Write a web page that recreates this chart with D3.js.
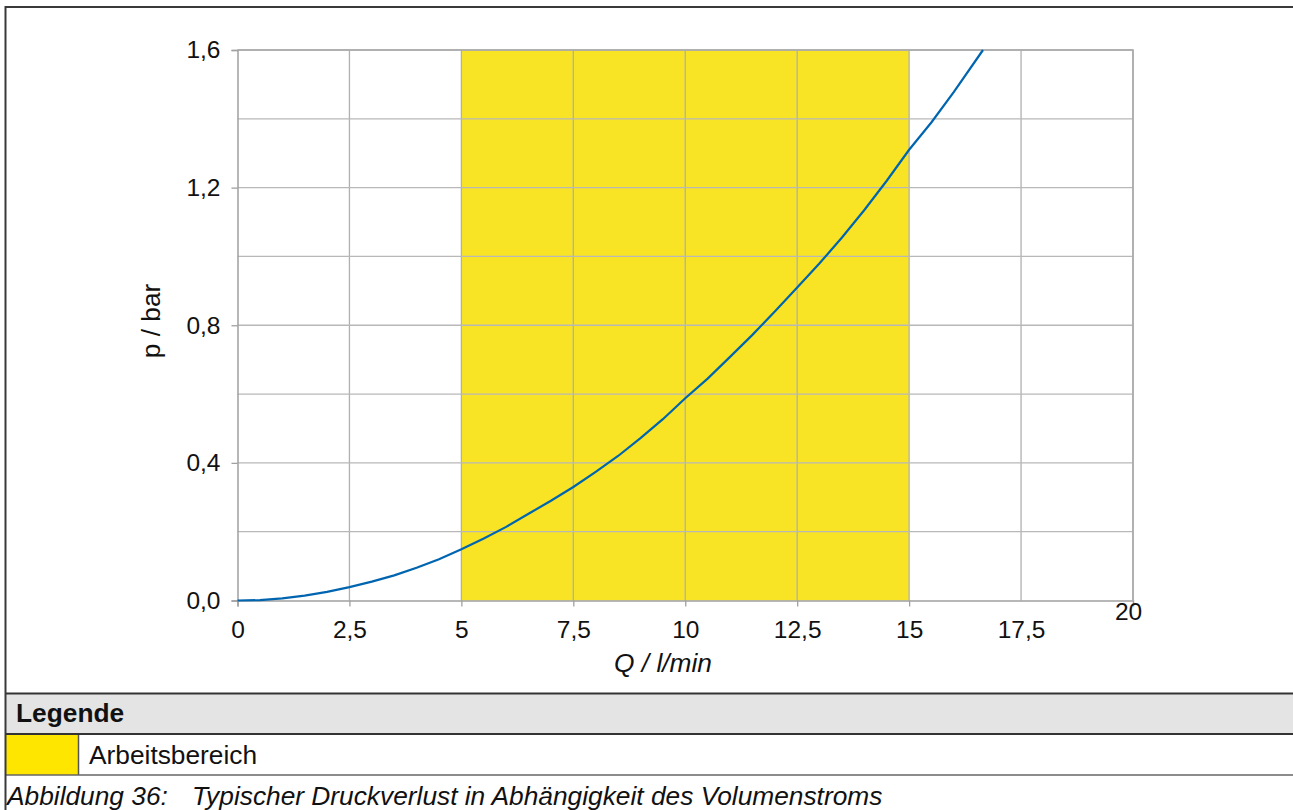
<!DOCTYPE html>
<html>
<head>
<meta charset="utf-8">
<script src="https://cdn.jsdelivr.net/npm/d3@7"></script>
<style>
  body { margin: 0; background: #fff; }
  text { font-family: "Liberation Sans", Arial, sans-serif; fill: #111; }
</style>
</head>
<body>
<svg id="chart" width="1293" height="810"></svg>
<script>
// Druckverlust-Kurve
var flow = [0, 0.5, 1, 1.5, 2, 2.5, 3, 3.5, 4, 4.5, 5, 5.5, 6, 6.5, 7, 7.5, 8, 8.5,
  9, 9.5, 10, 10.5, 11, 11.5, 12, 12.5, 13, 13.5, 14, 14.5, 15, 15.5, 16, 16.65];
var pressure = [0, 0.001, 0.006, 0.014, 0.025, 0.039, 0.055, 0.073, 0.095, 0.12, 0.149,
  0.18, 0.214, 0.252, 0.29, 0.33, 0.374, 0.42, 0.472, 0.527, 0.588, 0.645, 0.708,
  0.772, 0.84, 0.91, 0.98, 1.055, 1.135, 1.22, 1.31, 1.39, 1.478, 1.6];
var xTicks = [0, 2.5, 5, 7.5, 10, 12.5, 15, 17.5, 20];
var yTicks = [0, 0.4, 0.8, 1.2, 1.6];
var yGrid = [0.2, 0.4, 0.6, 0.8, 1.0, 1.2, 1.4, 1.6];
var workRange = [5, 15];
var legendLabel = "Arbeitsbereich";
var caption = ["Abbildung 36:", "Typischer Druckverlust in Abhängigkeit des Volumenstroms"];

var svg = d3.select("#chart");
var pLeft = 237.5, pRight = 1133, pTop = 50, pBottom = 600.5;
var labelSize = 26.3;

var x = d3.scaleLinear().domain([0, 20]).range([pLeft, pRight]);
var y = d3.scaleLinear().domain([0, 1.6]).range([pBottom, pTop]);
var comma = function (s) { return String(s).replace(".", ","); };

// Arbeitsbereich
svg.append("rect")
  .attr("x", x(workRange[0])).attr("y", pTop)
  .attr("width", x(workRange[1]) - x(workRange[0]))
  .attr("height", pBottom - pTop)
  .attr("fill", "#f8e424");

// gitter
svg.append("g").selectAll("line").data(xTicks.slice(1))
  .join("line")
  .attr("x1", d => x(d)).attr("x2", d => x(d))
  .attr("y1", pTop).attr("y2", pBottom)
  .attr("stroke", "#b0b0b0").attr("stroke-width", 1.3);
svg.append("g").selectAll("line").data(yGrid)
  .join("line")
  .attr("x1", pLeft).attr("x2", pRight)
  .attr("y1", d => y(d)).attr("y2", d => y(d))
  .attr("stroke", "#b8b8b8").attr("stroke-width", 1.3);

// achsen
var xAxis = svg.append("g")
  .attr("transform", "translate(0," + pBottom + ")")
  .call(d3.axisBottom(x).tickValues(xTicks).tickSize(6).tickPadding(14).tickFormat(comma));
var yAxis = svg.append("g")
  .attr("transform", "translate(" + pLeft + ",0)")
  .call(d3.axisLeft(y).tickValues(yTicks).tickSize(6).tickPadding(11)
    .tickFormat(d => comma(d3.format(".1f")(d))));

[xAxis, yAxis].forEach(function (a) {
  a.select(".domain").attr("stroke", "#a0a0a0").attr("stroke-width", 1.5);
  a.selectAll(".tick line").attr("stroke", "#a0a0a0").attr("stroke-width", 1.3);
  a.selectAll(".tick text").attr("font-size", 24.5).attr("fill", "#111")
    .style("font-family", "'Liberation Sans', Arial, sans-serif");
});
xAxis.selectAll(".tick").filter(d => d > 15).select("line").remove();
xAxis.selectAll(".tick").filter(d => d === 20).select("text")
  .attr("dx", -5).attr("dy", "-0.04em");

// rahmen oben/rechts
svg.append("path")
  .attr("d", "M" + pLeft + "," + pTop + "H" + pRight + "V" + pBottom)
  .attr("fill", "none").attr("stroke", "#a8a8a8").attr("stroke-width", 1.5);

// kurve
svg.append("path")
  .datum(d3.zip(flow, pressure))
  .attr("fill", "none")
  .attr("stroke", "#0065b0")
  .attr("stroke-width", 2.2)
  .attr("d", d3.line().x(d => x(d[0])).y(d => y(d[1])));

// achsentitel
svg.append("text")
  .attr("transform", "translate(160,321) rotate(-90)")
  .attr("text-anchor", "middle")
  .attr("font-size", labelSize)
  .text("p / bar");
svg.append("text")
  .attr("x", 663).attr("y", 672)
  .attr("text-anchor", "middle")
  .attr("font-size", labelSize)
  .attr("font-style", "italic")
  .text("Q / l/min");

// legende
svg.append("rect").attr("x", 5).attr("y", 693).attr("width", 1290).attr("height", 41).attr("fill", "#e4e4e4");
svg.append("rect").attr("x", 5).attr("y", 734).attr("width", 73).attr("height", 41).attr("fill", "#ffe600");
svg.append("line").attr("x1", 78.5).attr("x2", 78.5).attr("y1", 734).attr("y2", 775)
  .attr("stroke", "#555").attr("stroke-width", 1.5);
[[693.5, "#333", 2], [734, "#333", 2], [775, "#666", 1.5]].forEach(function (l) {
  svg.append("line").attr("x1", 5).attr("x2", 1293).attr("y1", l[0]).attr("y2", l[0])
    .attr("stroke", l[1]).attr("stroke-width", l[2]);
});
svg.append("text").attr("x", 16).attr("y", 722).attr("font-size", labelSize)
  .attr("font-weight", "bold").text("Legende");
svg.append("text").attr("x", 89).attr("y", 764).attr("font-size", labelSize).text(legendLabel);
svg.append("text").attr("x", 7).attr("y", 805).attr("font-size", labelSize)
  .attr("font-style", "italic").text(caption[0]);
svg.append("text").attr("x", 192).attr("y", 805).attr("font-size", labelSize)
  .attr("font-style", "italic").text(caption[1]);

// aussenrahmen
svg.append("path")
  .attr("d", "M5.5,810V7H1293")
  .attr("fill", "none").attr("stroke", "#3a3a3a").attr("stroke-width", 2);
</script>
</body>
</html>
